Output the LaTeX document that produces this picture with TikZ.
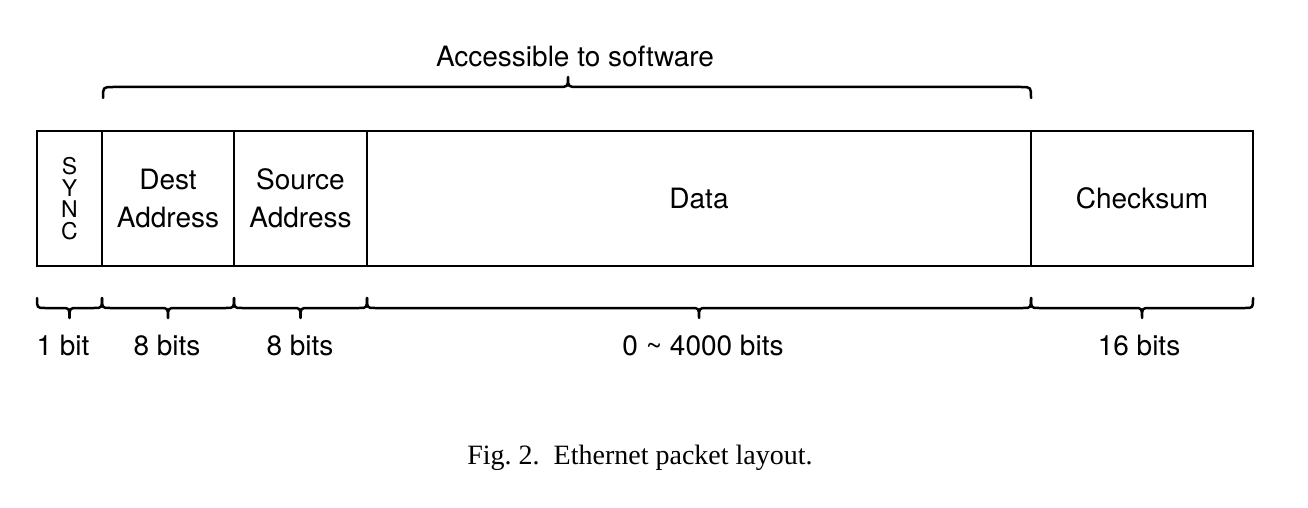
\documentclass[tikz,border=0pt]{standalone}
\usepackage{fontspec}
\setmainfont{TeX Gyre Heros}
\newfontfamily\capfont{Liberation Serif}
\begin{document}
\begin{tikzpicture}[x=0.5pt,y=-0.5pt,
  line width=1.4pt,
  cell/.style={draw, line width=1.4pt, inner sep=0pt, minimum height=67.5pt, align=center,
    font=\fontsize{14}{19}\selectfont},
  synccell/.style={cell, font=\fontsize{11.5}{10.75}\selectfont},
  lbl/.style={font=\fontsize{14}{17}\selectfont, inner sep=0pt},
  brc/.style={line width=1.25pt, line join=round, line cap=round}]
\useasboundingbox (0,0) rectangle (1308,508);
% cells
\node[synccell, minimum width=32.5pt] (sync) at (69.5,198.5) {S\\Y\\N\\C};
\node[cell, minimum width=66pt] (dest) at (168,198.5) {Dest\\Address};
\node[cell, minimum width=66.5pt] (src) at (300.5,198.5) {Source\\Address};
\node[cell, minimum width=332pt] (data) at (699,198.5) {Data};
\node[cell, minimum width=111pt] (chk) at (1142,198.5) {Checksum};
% top brace
\draw[brc] (103,98) .. controls (103,87) .. (113,87) -- (558,87)
  .. controls (568,87) .. (568,77) .. controls (568,87) .. (578,87)
  -- (1021,87) .. controls (1031,87) .. (1031,98);
\node[lbl] (acc) at (575,56) {Accessible to software};
% bottom braces
\foreach \a/\b/\n/\t/\lx in {37/102/b1/1 bit/63, 102/234/b2/8 bits/167, 234/367/b3/8 bits/300,
    367/1031/b4/0 \char`\~{} 4000 bits/703, 1031/1253/b5/16 bits/1139}{
  \pgfmathsetmacro\m{(\a+\b)/2}
  \draw[brc] (\a,298) .. controls (\a,308) .. (\a+8,308) -- (\m-8,308)
    .. controls (\m,308) .. (\m,318) .. controls (\m,308) .. (\m+8,308)
    -- (\b-8,308) .. controls (\b,308) .. (\b,298);
  \node[lbl] (\n) at (\lx,346) {\t};
}
\node[font=\capfont\fontsize{14}{16}\selectfont, inner sep=0pt, anchor=base] (cap) at (640,464)
  {Fig.~2.\ \ Ethernet packet layout.};
\end{tikzpicture}
\end{document}
